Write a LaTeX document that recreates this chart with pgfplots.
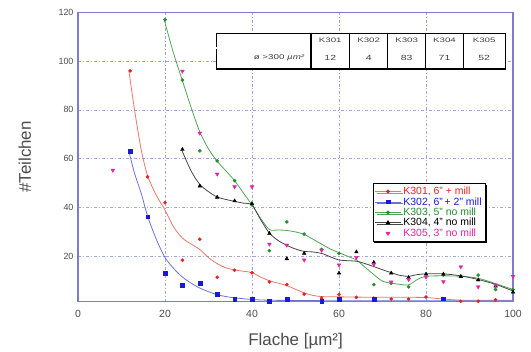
\documentclass[border=0pt]{standalone}
\usepackage{fontspec}
\setmainfont{Liberation Sans}
\usepackage{graphicx}
\usepackage{pgfplots}
\usepackage{pgfplotstable}
\pgfplotsset{compat=1.18}
\usetikzlibrary{shadows}
\pgfplotsset{pinkleg/.style={legend image code/.code={\draw[##1] plot coordinates {(13bp,0bp)};}}}

\definecolor{cRed}{RGB}{225,35,35}
\definecolor{cRedL}{RGB}{228,120,105}
\definecolor{cBlue}{RGB}{25,25,220}
\definecolor{cBlueL}{RGB}{105,115,215}
\definecolor{cGreen}{RGB}{35,140,45}
\definecolor{cGreenL}{RGB}{80,165,85}
\definecolor{cBlackL}{RGB}{70,70,70}
\definecolor{cPink}{RGB}{230,35,165}
\definecolor{cAxis}{RGB}{125,125,200}
\definecolor{cGrid}{RGB}{165,165,222}

% measured points
\pgfplotstableread{
x y
12 96
16 52.6
20 42
24 18.4
28 27
32 11.4
36 14.3
40 13.3
44 9.5
48 8.4
52 4.5
56 2.9
60 4.4
64 3.2
68 2.8
72 2.5
76 2.5
80 3.3
84 2.5
88 1.6
92 1.6
96 2.2
}\redpts
\pgfplotstableread{
x y
12 63.2
16 36.2
20 13.2
24 8.2
28 9.1
32 4.4
36 2.3
40 2.4
44 1.6
48 2.4
56 1.6
60 2.4
68 2.4
84 2.6
}\bluepts
\pgfplotstableread{
x y
20 117
24 92.2
28 63.2
32 59.1
36 51
40 41
44 22.3
48 34.1
52 29.1
56 22.8
60 21.2
68 8.4
72 8.9
76 7.5
84 12.3
88 11.9
92 12.3
96 6.4
100 6.4
}\greenpts
\pgfplotstableread{
x y
24 63.8
28 48.8
32 44.2
36 42.7
40 41.6
44 29.4
48 19
52 21.2
60 13.1
64 21.8
68 17.5
72 13.1
76 11.3
80 12.7
84 12.7
88 11.7
92 10.3
96 7.8
100 5.3
}\blackpts
\pgfplotstableread{
x y
8 55.3
24 95.9
28 70.5
32 53.7
36 48.5
40 48.5
44 25
48 24.6
52 18.5
56 22.5
60 16.5
64 19.5
68 16.7
72 9.5
76 10.5
80 11.5
84 9.6
88 15.7
92 7.5
96 8.2
100 11.8
}\pinkpts

\begin{document}
\begin{tikzpicture}[x=1bp,y=1bp]
\begin{axis}[
  at={(0,0)}, anchor=south west,
  scale only axis, width=435bp, height=289.4bp,
  xmin=0, xmax=100, ymin=1.4, ymax=120,
  xtick={0,20,...,100}, ytick={20,40,...,120},
  grid=major,
  major grid style={cGrid, dash pattern=on 3pt off 2pt on 1pt off 2pt, line width=0.5pt},
  axis line style={cAxis, line width=1.2pt},
  major tick length=0pt,
  /pgf/number format/assume math mode=true,
  yticklabel style={font=\fontsize{9}{10}\selectfont, text=black!70, xshift=-1bp},
  xticklabel style={font=\fontsize{10.5}{11}\selectfont, text=black!70, yshift=-5bp},
  xlabel={Flache [µm²]}, ylabel={\#Teilchen},
  xlabel style={at={(axis description cs:0.5,-0.136)}, anchor=center, font=\fontsize{17}{18}\selectfont, text=black!70},
  ylabel style={at={(axis description cs:-0.122,0.5)}, anchor=center, font=\fontsize{17}{18}\selectfont, text=black!70},
  legend style={at={(axis cs:67.7,50.1)}, anchor=north west, draw=black, line width=0.6pt, fill=white,
    drop shadow={shadow xshift=1.6bp, shadow yshift=-1.6bp, fill=black, opacity=1},
    font=\fontsize{10.5}{11}\selectfont, row sep=-2.6bp, inner sep=1.8bp, legend cell align=left},
  legend image code/.code={\draw[mark repeat=2,mark phase=2,#1] plot coordinates {(0bp,0bp) (13bp,0bp) (26bp,0bp)};},
]
% fitted curves
\addplot[cRedL, line width=0.8pt, smooth, no marks, forget plot] coordinates {
(11.7,96) (13,80) (14.5,64) (16,53) (18,45) (20,39) (22,32) (24,27.5) (26,25) (28,22.8) (30,19.5) (32,17) (34,15.3) (36,14.4) (38,13.9) (40,13.3) (42,11.5) (44,10) (46,9) (48,8) (50,6.5) (52,5) (54,4) (56,3.5) (60,3.4) (64,3.3) (68,3.2) (72,3.2) (76,3.2) (80,3.1) (84,2.5) (88,2) (92,2) (96,2) (100,2)};
\addplot[cBlueL, line width=0.8pt, smooth, no marks, forget plot] coordinates {
(11.7,63) (13,54) (14.5,46) (16,36.5) (18,27) (20,19.5) (22,15) (24,11.5) (26,9) (28,7) (30,5.5) (32,4.3) (34,3.5) (36,3) (40,2.3) (44,2) (50,1.9) (60,1.8) (70,1.8) (80,1.8) (90,1.8) (100,1.8)};
\addplot[cGreenL, line width=0.8pt, smooth, no marks, forget plot] coordinates {
(19.8,117) (22,103) (24,92) (26,81) (28,71) (30,64) (32,59) (34,55) (36,51) (38,46) (40,41) (42,35.5) (44,31) (46,30.8) (48,30.6) (50,30) (52,29) (54,27) (56,25) (58,23) (60,21.5) (62,20) (64,18.5) (66,15.5) (68,12.5) (70,9.8) (72,9) (74,8.5) (76,8.3) (78,10.5) (80,11.8) (84,12) (88,11.8) (92,11) (96,8.8) (100,6.4)};
\addplot[cBlackL, line width=0.8pt, smooth, no marks, forget plot] coordinates {
(23.8,63.8) (26,55) (28,49.5) (30,46.5) (32,44.3) (34,43.3) (36,42.5) (38,41.8) (40,41) (42,35) (44,29.5) (46,26.5) (48,24.5) (50,23) (52,22) (54,21.8) (56,21.2) (58,19.8) (60,18.5) (62,18.2) (64,18) (66,17) (68,15.8) (70,14.5) (72,13.3) (74,12.2) (76,11.8) (78,12.5) (80,12.8) (84,12.8) (88,12) (92,10.5) (96,8.5) (100,5.8)};
% measured points
\addplot[only marks, cRed, mark=*, mark size=1.6bp, forget plot] table {\redpts};
\addplot[only marks, cBlue, mark=square*, mark size=1.9bp, forget plot] table {\bluepts};
\addplot[only marks, cGreen, mark=*, mark size=1.6bp, forget plot] table {\greenpts};
\addplot[only marks, black, mark=triangle*, mark size=2.1bp, forget plot] table {\blackpts};
\addplot[only marks, cPink, mark=triangle*, mark options={rotate=180}, mark size=2.2bp, forget plot] table {\pinkpts};
% legend
\addlegendimage{cRedL, line width=0.8pt, mark=*, mark options={cRed}, mark size=1.6bp}
\addlegendentry{\textcolor{cRed}{K301, 6" + mill}}
\addlegendimage{cBlueL, line width=0.8pt, mark=square*, mark options={cBlue}, mark size=1.9bp}
\addlegendentry{\textcolor{cBlue}{K302, 6"\,+ 2" mill}}
\addlegendimage{cGreenL, line width=0.8pt, mark=*, mark options={cGreen}, mark size=1.6bp}
\addlegendentry{\textcolor{cGreen}{K303, 5" no mill}}
\addlegendimage{cBlackL, line width=0.8pt, mark=triangle*, mark options={black}, mark size=2.1bp}
\addlegendentry{\textcolor{black}{K304, 4" no mill}}
\addlegendimage{only marks, cPink, mark=triangle*, mark options={rotate=180}, mark size=2.2bp, pinkleg}
\addlegendentry{\textcolor{cPink}{K305, 3" no mill}}
\end{axis}
% table
\fill[white] (138,232.7) rectangle (427,268.7);
\draw[line width=0.7bp] (138,232.7) rectangle (427,268.7);
\draw[double, double distance=1.1bp, line width=0.6bp] (138,253.7) -- (427,253.7);
\draw[line width=2.6bp] (137.5,232.7) -- (427.5,232.7);
\draw[line width=1.1bp] (233,232.7) -- (233,268.7);
\foreach \xx in {271.7,309.7,347.7,385.3} \draw[line width=0.6bp] (\xx,232.7) -- (\xx,268.7);
\foreach \xx/\tt in {252.3/K301,290.7/K302,328.7/K303,366.5/K304,406.2/K305}
  \node[text=black!75] at (\xx,261.2) {\scalebox{1.5}[1]{\fontsize{6.5}{7}\selectfont \tt}};
\foreach \xx/\tt in {252.3/12,290.7/4,328.7/83,366.5/71,406.2/52}
  \node[text=black!75] at (\xx,243.7) {\scalebox{1.4}[1]{\fontsize{7.5}{8}\selectfont \tt}};
\node[anchor=east, text=black!75] at (230,243.7) {\scalebox{1.4}[1]{\fontsize{7}{8}\selectfont ø >300 \textit{µm²}}};
\pgfresetboundingbox
\path (-78,-49.3) rectangle (453,301.7);
\end{tikzpicture}
\end{document}
